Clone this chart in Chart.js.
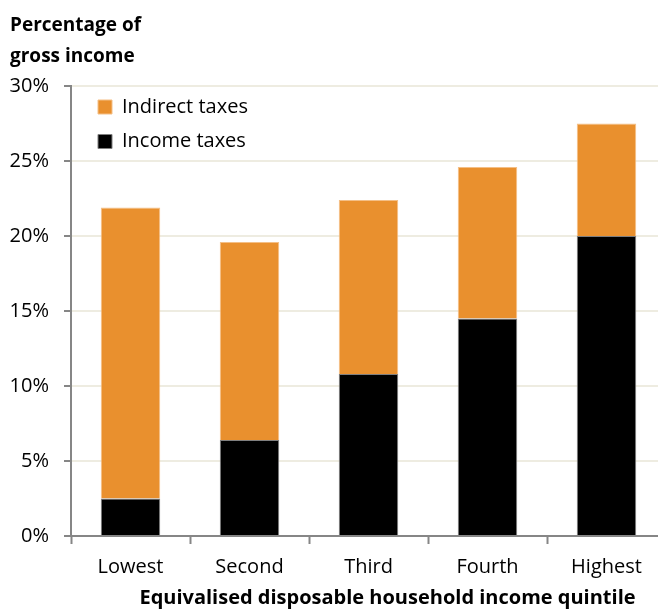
<!DOCTYPE html>
<html>
<head>
<meta charset="utf-8">
<script src="https://cdn.jsdelivr.net/npm/chart.js@4"></script>
<style>
  html, body { margin: 0; padding: 0; background: #fff; overflow: hidden; }
  canvas { display: block; }
</style>
</head>
<body>
<canvas id="c" width="666" height="610"></canvas>
<script>
// Tax paid as a share of gross income, by income quintile
const quintiles = ['Lowest', 'Second', 'Third', 'Fourth', 'Highest'];
const incomeTaxes = [2.5, 6.4, 10.8, 14.5, 20.0];
const indirectTaxes = [19.4, 13.2, 11.6, 10.1, 7.5];
const yTickValues = [0, 5, 10, 15, 20, 25, 30];
const yAxisTitle = ['Percentage of', 'gross income'];
const xAxisTitle = 'Equivalised disposable household income quintile';

const FONT = '"Open Sans", Lato, sans-serif';
const AXIS_GREY = '#868686';
const GRID_BEIGE = '#EEECE1';

// Places the legend inside the plot, just below the top gridline
const legendNudge = {
  id: 'legendNudge',
  afterLayout(chart) {
    const lg = chart.legend;
    const area = chart.chartArea;
    if (lg && area) {
      const h = lg.height;
      lg.left = area.left + 12.5;
      lg.top = area.top - 3.5;
      lg.bottom = lg.top + h;
    }
  }
};

// Bold axis caption under the quintile labels
const xCaption = {
  id: 'xCaption',
  afterDraw(chart) {
    const x = chart.scales.x;
    const ctx = chart.ctx;
    ctx.save();
    ctx.font = 'bold 20px ' + FONT;
    ctx.fillStyle = '#000';
    ctx.textAlign = 'center';
    ctx.textBaseline = 'middle';
    ctx.fillText(xAxisTitle, (x.left + x.right) / 2 + 19, 598);
    ctx.restore();
  }
};

new Chart(document.getElementById('c'), {
  type: 'bar',
  data: {
    labels: quintiles,
    datasets: [
      {
        label: 'Income taxes',
        data: incomeTaxes,
        backgroundColor: '#000000',
        borderColor: '#7f7f7f',
        borderWidth: 1
      },
      {
        label: 'Indirect taxes',
        data: indirectTaxes,
        backgroundColor: '#E9902E',
        borderColor: '#F4BF86',
        borderWidth: 1
      }
    ]
  },
  options: {
    responsive: false,
    animation: false,
    devicePixelRatio: 1,
    layout: { padding: { left: 10, right: 0, top: 0, bottom: 0 } },
    datasets: { bar: { barPercentage: 0.5, categoryPercentage: 1 } },
    plugins: {
      title: {
        display: true,
        text: yAxisTitle,
        align: 'start',
        color: '#000',
        font: { family: FONT, size: 19, weight: 'bold', lineHeight: 31 / 19 },
        padding: { top: 10, bottom: 14 }
      },
      legend: {
        position: 'chartArea',
        align: 'start',
        reverse: true,
        labels: {
          boxWidth: 14,
          boxHeight: 14,
          padding: 14.5,
          color: '#000',
          font: { family: FONT, size: 20 }
        }
      },
      tooltip: { enabled: false }
    },
    scales: {
      x: {
        stacked: true,
        offset: true,
        grid: {
          offset: true,
          drawOnChartArea: false,
          drawTicks: true,
          tickLength: 8,
          tickColor: AXIS_GREY,
          tickWidth: 2
        },
        border: { color: AXIS_GREY, width: 2 },
        ticks: {
          color: '#000',
          padding: 11,
          maxRotation: 0,
          font: { family: FONT, size: 20 }
        },
        afterFit(scale) { scale.height = 74; }
      },
      y: {
        stacked: true,
        min: 0,
        max: 30,
        afterBuildTicks(scale) { scale.ticks = yTickValues.map(v => ({ value: v })); },
        grid: {
          color: ctx => (ctx.tick && ctx.tick.value === 0) ? AXIS_GREY : GRID_BEIGE,
          lineWidth: 2,
          drawTicks: true,
          tickLength: 7,
          tickColor: AXIS_GREY,
          tickWidth: 2
        },
        border: { color: AXIS_GREY, width: 2 },
        ticks: {
          color: '#000',
          padding: 15,
          font: { family: FONT, size: 20 },
          callback: v => v + '%'
        },
        afterFit(scale) { scale.width = 61; }
      }
    }
  },
  plugins: [legendNudge, xCaption]
});
</script>
</body>
</html>
